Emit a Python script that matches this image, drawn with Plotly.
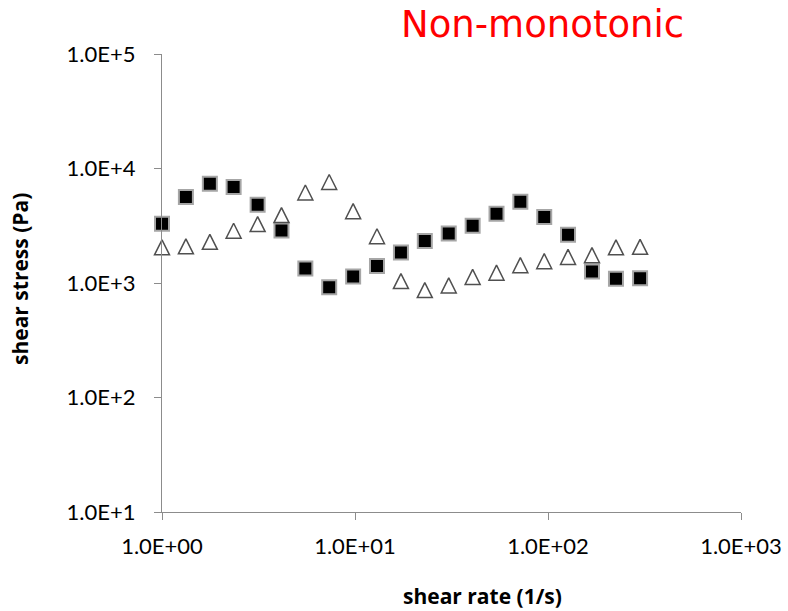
import plotly.graph_objects as go

# ---- data ----
shear_rate = [1.0, 1.33, 1.77, 2.35, 3.13, 4.16, 5.53, 7.35, 9.78, 13.0, 17.3,
              23.0, 30.6, 40.7, 54.1, 71.9, 95.6, 127, 169, 225, 300]
stress_filled = [3290, 5640, 7370, 6890, 4830, 2880, 1340, 916, 1140, 1410, 1850,
                 2330, 2710, 3160, 4030, 5130, 3770, 2640, 1260, 1090, 1100]
stress_open = [2050, 2090, 2290, 2860, 3270, 3920, 6170, 7620, 4240, 2560, 1040,
               867, 953, 1130, 1230, 1430, 1550, 1690, 1750, 2050, 2070]

x_tickvals = [1, 10, 100, 1000]
x_ticktext = ["1.0E+00", "1.0E+01", "1.0E+02", "1.0E+03"]
y_tickvals = [10, 100, 1000, 10000, 100000]
y_ticktext = ["1.0E+1", "1.0E+2", "1.0E+3", "1.0E+4", "1.0E+5"]

title_text = "Non-monotonic"
x_title = "shear rate (1/s)"
y_title = "shear stress (Pa)"

W, H = 788, 611
L, R, T, B = 162, 47, 54, 99
pw, ph = W - L - R, H - T - B

fig = go.Figure()
fig.add_trace(go.Scatter(
    x=shear_rate, y=stress_filled, mode="markers", cliponaxis=False,
    marker=dict(symbol="square", size=14, color="black",
                line=dict(color="#a6a6a6", width=2)),
    showlegend=False))
tri_size = 15
fig.add_trace(go.Scatter(
    x=shear_rate, y=stress_open, mode="markers", cliponaxis=False,
    marker=dict(symbol="arrow-down-open", size=tri_size, angle=180,
                standoff=tri_size / 2, color="#505050",
                line=dict(color="#505050", width=1.5)),
    showlegend=False))

axis_common = dict(type="log", showgrid=False, zeroline=False, showline=True,
                   automargin=False,
                   linecolor="#8c8c8c", linewidth=1.3, ticks="outside", ticklen=7,
                   tickcolor="#8c8c8c", tickwidth=1.3,
                   tickfont=dict(family="Lato", size=22, color="black"))
fig.update_xaxes(range=[0, 3], tickvals=x_tickvals, ticktext=x_ticktext,
                 ticklabelstandoff=7, **axis_common)
fig.update_yaxes(range=[1, 5], tickvals=y_tickvals, ticktext=y_ticktext,
                 ticklabelstandoff=14, **axis_common)

fig.add_annotation(text=title_text, xref="paper", yref="paper",
                   x=(542.5 - L) / pw, y=(H - B - 25) / ph, showarrow=False,
                   xanchor="center", yanchor="middle",
                   font=dict(family="DejaVu Sans", size=37, color="#ff0000"))
fig.add_annotation(text="<b>" + x_title + "</b>", xref="paper", yref="paper",
                   x=(482 - L) / pw, y=(H - B - 596) / ph, showarrow=False,
                   xanchor="center", yanchor="middle",
                   font=dict(family="Open Sans", size=21, color="black"))
fig.add_annotation(text="<b>" + y_title + "</b>", xref="paper", yref="paper",
                   x=(20 - L) / pw, y=(H - B - 279) / ph, showarrow=False,
                   xanchor="center", yanchor="middle", textangle=-90,
                   font=dict(family="Open Sans", size=21, color="black"))

fig.update_layout(width=W, height=H, margin=dict(l=L, r=R, t=T, b=B),
                  paper_bgcolor="white", plot_bgcolor="white")
fig.write_html("out.html", config={"displayModeBar": False},
               post_script="document.body.style.margin='0';document.body.style.overflow='hidden';")
